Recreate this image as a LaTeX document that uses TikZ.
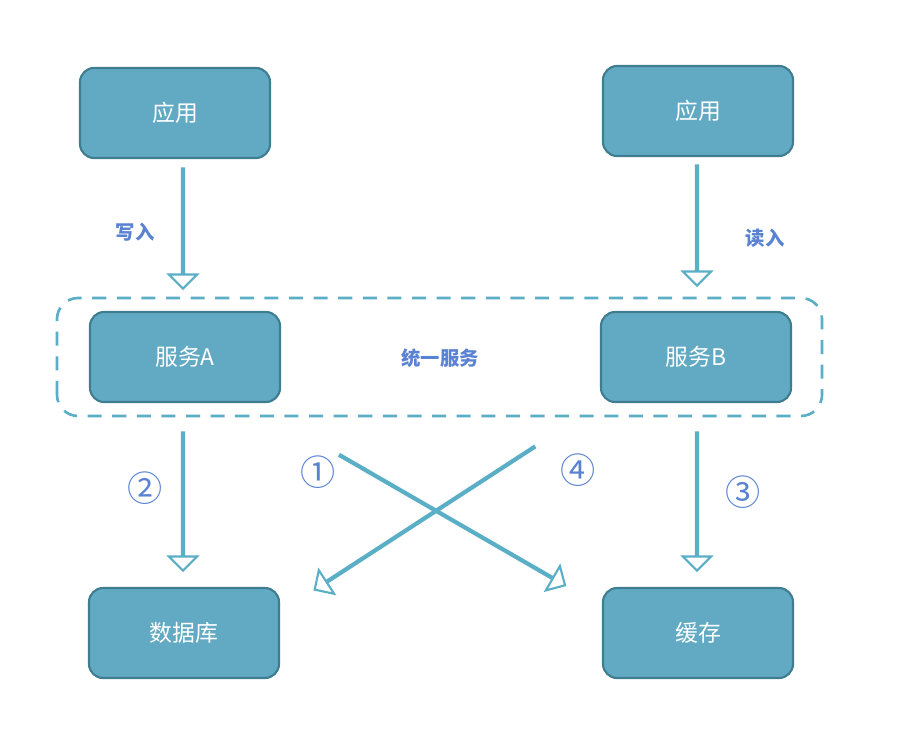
\documentclass[tikz,border=0pt]{standalone}
\usepackage{fontspec}
\newfontfamily\cjk{Noto Sans CJK SC}
\usetikzlibrary{shapes.arrows}
\definecolor{BoxFill}{HTML}{62AAC3}
\definecolor{BoxLine}{HTML}{3F7D90}
\definecolor{ArrowLine}{HTML}{5AAEC6}
\definecolor{LabelBlue}{HTML}{5A82D2}
\tikzset{
  box/.style={draw=BoxLine, line width=1.2pt, fill=BoxFill, rounded corners=8pt,
    minimum width=3.8cm, minimum height=1.8cm, text=white, font=\cjk\fontsize{13}{15}\selectfont},
  flow/.style={single arrow, draw=ArrowLine, line width=1.2pt, fill=white,
    minimum width=0.28cm, single arrow head extend=0.26cm, single arrow head indent=0pt,
    inner sep=0pt, shape border uses incircle=false},
  tag/.style={text=LabelBlue, font=\cjk\bfseries\fontsize{11}{13}\selectfont},
  num/.style={text=LabelBlue, font=\cjk\fontsize{20}{22}\selectfont}
}
\begin{document}
\begin{tikzpicture}
  \useasboundingbox (0,0) rectangle (18.4,15);

  % ---------- Boxes
  \node[box] (appWrite) at (3.5,12.74) {应用};
  \node[box] (appRead) at (13.96,12.78) {应用};
  \node[box] (svcA) at (3.7,7.86) {服务A};
  \node[box] (svcB) at (13.92,7.86) {服务B};
  \node[box] (db) at (3.68,2.34) {数据库};
  \node[box] (cache) at (13.96,2.34) {缓存};

  % Unified service frame
  \draw[ArrowLine, line width=1.5pt, dash pattern=on 8pt off 6pt, rounded corners=12pt]
    (1.14,6.68) rectangle (16.44,9.04);
  \node[tag] (unified) at (8.8,7.84) {统一服务};

  % ---------- Arrows
  \node[flow, minimum height=2.4cm, rotate=-90] (write) at (3.66,10.44) {};
  \node[flow, minimum height=2.4cm, rotate=-90] (read) at (13.94,10.5) {};
  \node[flow, minimum height=2.76cm, rotate=-90] (toDb) at (3.66,4.98) {};
  \node[flow, minimum height=2.76cm, rotate=-90] (toCache) at (13.94,4.98) {};
  \node[flow, minimum height=5.2cm, rotate=-30] (cross1) at (9.04,4.6) {};
  \node[flow, minimum height=5.24cm, rotate=213] (cross4) at (8.5,4.64) {};

  % ---------- Labels
  \node[tag] (lWrite) at (2.7,10.36) {写入};
  \node[tag] (lRead) at (15.3,10.24) {读入};
  \node[num] (nTwo) at (2.9,5.24) {②};
  \node[num] (nOne) at (6.36,5.56) {①};
  \node[num] (nFour) at (11.56,5.6) {④};
  \node[num] (nThree) at (14.86,5.16) {③};
\end{tikzpicture}
\end{document}
